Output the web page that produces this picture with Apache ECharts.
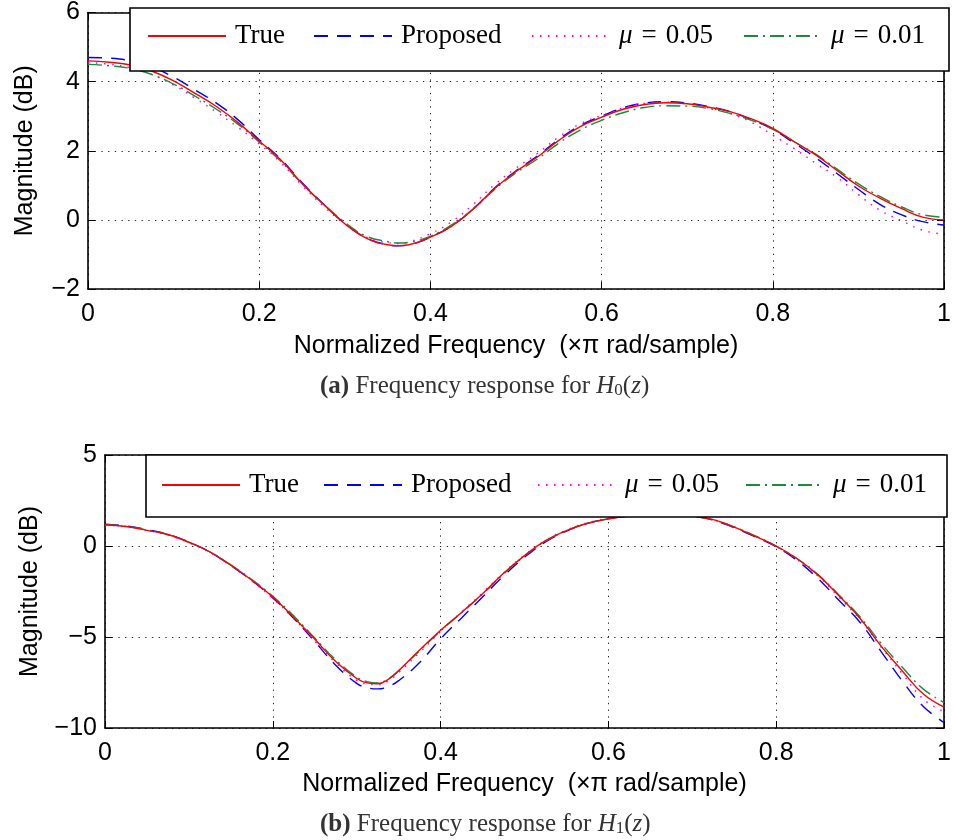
<!DOCTYPE html>
<html><head><meta charset="utf-8">
<script src="https://cdn.jsdelivr.net/npm/echarts@6/dist/echarts.min.js"></script>
<style>html,body{margin:0;padding:0;background:#fff}#c{width:954px;height:840px}</style>
</head><body><div id="c"></div>
<script>
// ---------------- DATA ----------------
// normalized frequency samples (×π rad/sample), panel (a)
const freqH0 = [0,0.025,0.05,0.075,0.1,0.125,0.15,0.175,0.2,0.225,0.25,0.275,0.3,0.325,0.35,0.3625,0.375,0.4,0.425,0.45,0.475,0.5,
  0.525,0.55,0.575,0.6,0.625,0.65,0.675,0.7,0.725,0.75,0.775,0.8,0.825,0.85,0.875,0.9,0.925,0.95,0.975,1];
// panel (b)
const freqH1 = [0,0.025,0.05,0.075,0.1,0.125,0.15,0.175,0.2,0.225,0.25,0.275,0.3,0.3125,0.325,0.3375,0.35,0.375,0.4,0.425,0.45,0.475,0.5,
  0.525,0.55,0.575,0.6,0.625,0.65,0.675,0.7,0.725,0.75,0.775,0.8,0.825,0.85,0.875,0.9,0.925,0.95,0.975,1];

// H0(z) magnitude (dB)
const h0True     = [4.60,4.56,4.48,4.30,4.02,3.66,3.28,2.82,2.28,1.74,1.05,0.45,-0.11,-0.53,-0.72,-0.745,-0.72,-0.50,-0.18,0.31,0.91,1.40,
  1.82,2.30,2.70,2.97,3.20,3.34,3.39,3.36,3.26,3.13,2.92,2.65,2.26,1.88,1.43,0.98,0.63,0.33,0.08,0.00];
const h0Proposed = [4.70,4.68,4.60,4.42,4.13,3.76,3.38,2.90,2.32,1.76,1.08,0.46,-0.10,-0.52,-0.72,-0.75,-0.72,-0.50,-0.17,0.32,0.92,1.42,
  1.85,2.33,2.73,3.00,3.24,3.38,3.42,3.38,3.28,3.13,2.90,2.62,2.22,1.80,1.34,0.88,0.45,0.15,-0.05,-0.15];
const h0Mu05     = [4.55,4.50,4.40,4.20,3.90,3.52,3.12,2.68,2.20,1.66,1.00,0.40,-0.12,-0.50,-0.66,-0.68,-0.64,-0.40,-0.05,0.45,1.02,1.50,
  1.92,2.40,2.78,3.02,3.24,3.37,3.40,3.36,3.24,3.08,2.82,2.45,2.06,1.64,1.23,0.73,0.28,-0.02,-0.30,-0.42];
const h0Mu01     = [4.50,4.46,4.38,4.20,3.93,3.58,3.20,2.77,2.25,1.70,1.05,0.46,-0.07,-0.47,-0.63,-0.67,-0.65,-0.47,-0.14,0.32,0.88,1.36,
  1.76,2.22,2.60,2.88,3.10,3.25,3.30,3.29,3.22,3.08,2.88,2.62,2.26,1.90,1.47,1.04,0.68,0.38,0.15,0.08];

// H1(z) magnitude (dB)
const h1True     = [1.17,1.07,0.86,0.63,0.20,-0.33,-1.06,-1.88,-2.80,-3.93,-5.12,-6.35,-7.28,-7.52,-7.57,-7.33,-6.85,-5.72,-4.63,-3.65,-2.62,-1.50,-0.53,
  0.29,0.85,1.25,1.49,1.65,1.74,1.73,1.64,1.45,1.04,0.53,0.00,-0.70,-1.60,-2.75,-3.98,-5.50,-6.85,-8.12,-8.85];
const h1Proposed = [1.20,1.10,0.90,0.64,0.22,-0.33,-1.08,-1.90,-2.85,-3.98,-5.25,-6.55,-7.55,-7.78,-7.85,-7.72,-7.40,-6.40,-5.10,-3.95,-2.80,-1.65,-0.62,
  0.22,0.82,1.24,1.50,1.66,1.74,1.73,1.63,1.42,1.00,0.50,-0.05,-0.80,-1.80,-3.00,-4.20,-5.80,-7.40,-8.80,-9.70];
const h1Mu05     = [1.15,1.06,0.86,0.60,0.18,-0.36,-1.10,-1.92,-2.88,-3.98,-5.22,-6.42,-7.38,-7.58,-7.62,-7.42,-6.95,-5.85,-4.70,-3.62,-2.58,-1.48,-0.50,
  0.30,0.88,1.27,1.52,1.67,1.75,1.74,1.64,1.44,1.04,0.55,-0.03,-0.74,-1.66,-2.82,-4.05,-5.55,-7.00,-8.40,-9.10];
const h1Mu01     = [1.17,1.08,0.88,0.62,0.21,-0.32,-1.04,-1.84,-2.76,-3.84,-5.06,-6.25,-7.20,-7.45,-7.52,-7.30,-6.85,-5.75,-4.66,-3.66,-2.64,-1.54,-0.55,
  0.26,0.84,1.24,1.49,1.65,1.73,1.72,1.63,1.44,1.04,0.56,-0.02,-0.70,-1.58,-2.70,-3.90,-5.35,-6.65,-7.85,-8.60];

const seriesNames = ['True','Proposed','mu05','mu01'];
const legendLabels = {True:'True', Proposed:'Proposed', mu05:'{i|μ}\u2004=\u20040.05', mu01:'{i|μ}\u2004=\u20040.01'};
const xTitle = 'Normalized Frequency  (×π rad/sample)';
const yTitle = 'Magnitude (dB)';

// ---------------- STYLE ----------------
const lineStyles = {
  True:     {color:'#ff0000', width:1.4, type:'solid'},
  Proposed: {color:'#0000ff', width:1.4, type:[14,9]},
  mu05:     {color:'#ff00ff', width:1.5, type:[1.5,6.5]},
  mu01:     {color:'#1e8a3c', width:1.4, type:[14,5,2,5]}
};
const SANS = 'Liberation Sans';
const SERIF = 'Liberation Serif';
const minus = v => String(v).replace('-', '\u2212');

const grids = [
  {left:88, top:9, width:861, height:280},
  {left:105, top:455, width:842, height:273}
];
const yRanges = [{min:-2,max:6,interval:2},{min:-10,max:5,interval:5}];

const xAxes = [], yAxes = [];
grids.forEach((g,gi)=>{
  const axisLine = {show:true, onZero:false, lineStyle:{color:'#000', width:1.6}};
  const tick = {show:true, inside:true, length:7, lineStyle:{color:'#000', width:1}};
  xAxes.push({type:'value', gridIndex:gi, min:0, max:1, interval:0.2, position:'bottom',
    axisLine, axisTick:tick,
    axisLabel:{show:true, margin:13, color:'#000', fontFamily:SANS, fontSize:25,
      formatter:v=>String(+v.toFixed(1)), showMinLabel:true, showMaxLabel:true},
    splitLine:{show:true, lineStyle:{color:'#222', width:1, type:[1.3,5.4]}},
    name:xTitle, nameLocation:'middle', nameGap:gi===0?45:44,
    nameTextStyle:{fontFamily:SANS, fontSize:25, color:'#000'}});
  xAxes.push({type:'value', gridIndex:gi, min:0, max:1, interval:0.2, position:'top',
    axisLine, axisTick:tick, axisLabel:{show:false}, splitLine:{show:false}});
  yAxes.push({type:'value', gridIndex:gi, min:yRanges[gi].min, max:yRanges[gi].max, interval:yRanges[gi].interval, position:'left',
    axisLine, axisTick:tick,
    axisLabel:{show:true, margin:8, color:'#000', fontFamily:SANS, fontSize:25, formatter:minus,
      showMinLabel:true, showMaxLabel:true},
    splitLine:{show:true, lineStyle:{color:'#222', width:1, type:[1.3,5.4]}},
    name:yTitle, nameLocation:'middle', nameRotate:90, nameGap:gi===0?50:62,
    nameTextStyle:{fontFamily:SANS, fontSize:25, color:'#000'}});
  yAxes.push({type:'value', gridIndex:gi, min:yRanges[gi].min, max:yRanges[gi].max, interval:yRanges[gi].interval, position:'right',
    axisLine, axisTick:tick, axisLabel:{show:false}, splitLine:{show:false}});
});

const panels = [
  {freq:freqH0, True:h0True, Proposed:h0Proposed, mu05:h0Mu05, mu01:h0Mu01},
  {freq:freqH1, True:h1True, Proposed:h1Proposed, mu05:h1Mu05, mu01:h1Mu01}
];
const series = [];
panels.forEach((d,gi)=>{
  seriesNames.forEach(n=>{
    series.push({type:'line', name:n, xAxisIndex:gi*2, yAxisIndex:gi*2,
      data:d.freq.map((f,i)=>[f, d[n][i]]),
      symbol:'none', smooth:0.45, lineStyle:lineStyles[n], itemStyle:{color:lineStyles[n].color},
      z: n==='True'?5:3, animation:false});
  });
});

// legend item positions (icon start) per panel
const legendPos = [
  {top:21, lefts:[147,313,531,743]},
  {top:470, lefts:[161,323,537,745]}
];
const legends = [];
legendPos.forEach(lp=>{
  seriesNames.forEach((n,i)=>{
    legends.push({data:[n], left:lp.lefts[i], top:lp.top, orient:'horizontal', selectedMode:false,
      itemWidth:78, itemHeight:14, z:10, padding:0,
      itemStyle:{opacity:0, borderWidth:0},
      formatter:name=>legendLabels[name],
      textStyle:{fontFamily:SERIF, fontSize:27, color:'#000', padding:[0,0,0,4], lineHeight:30,
        rich:{i:{fontFamily:SERIF, fontStyle:'italic', fontSize:27, color:'#000', lineHeight:30}}}});
  });
});

const capRich = {
  b:{fontFamily:SERIF, fontWeight:'bold', fontSize:25, color:'#333'},
  i:{fontFamily:SERIF, fontStyle:'italic', fontSize:25, color:'#333'},
  s:{fontFamily:SERIF, fontSize:17, color:'#333', verticalAlign:'bottom', lineHeight:17}
};

const option = {
  backgroundColor:'#fff',
  animation:false,
  grid: grids.map(g=>Object.assign({containLabel:false}, g)),
  xAxis: xAxes,
  yAxis: yAxes,
  series,
  legend: legends,
  title: [
    {text:'{b|(a)} Frequency response for {i|H}{s|0}({i|z})', left:315, top:369,
      textStyle:{fontFamily:SERIF, fontSize:25, fontWeight:'normal', color:'#333', rich:capRich}},
    {text:'{b|(b)} Frequency response for {i|H}{s|1}({i|z})', left:315, top:807,
      textStyle:{fontFamily:SERIF, fontSize:25, fontWeight:'normal', color:'#333', rich:capRich}}
  ],
  graphic: [
    {type:'rect', z:8, shape:{x:130, y:8, width:819, height:63}, style:{fill:'#fff', stroke:'#000', lineWidth:1.6}},
    {type:'rect', z:8, shape:{x:146, y:455, width:801, height:62}, style:{fill:'#fff', stroke:'#000', lineWidth:1.6}}
  ]
};
const chart = echarts.init(document.getElementById('c'));
chart.setOption(option);
</script>
</body></html>
